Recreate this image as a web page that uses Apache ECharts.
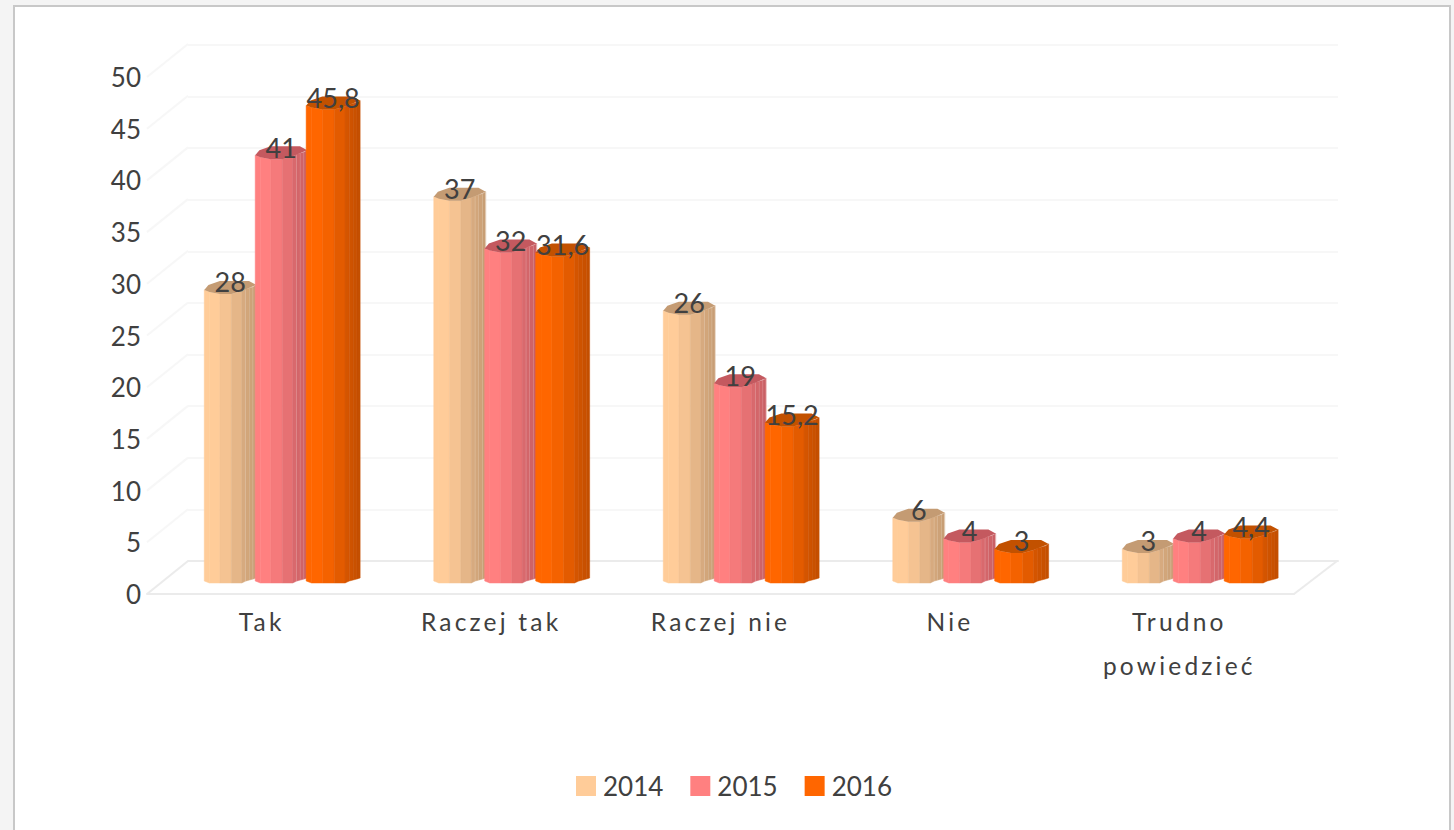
<!DOCTYPE html>
<html>
<head>
<meta charset="utf-8">
<script src="https://cdn.jsdelivr.net/npm/echarts@6/dist/echarts.min.js"></script>
<style>
  * { margin: 0; padding: 0; }
  body { background: #f4f4f4; width: 1454px; height: 830px; overflow: hidden; position: relative; }
  #panel { position: absolute; left: 13px; top: 5px; width: 1438px; height: 830px; background: #fff; border: 2px solid #c8c8c8; box-sizing: border-box; }
  #main { position: absolute; left: 0; top: 0; width: 1454px; height: 830px; }
  /* category labels are spaced out in the original */
  #main text[style*="24.5px"] { letter-spacing: 3.2px; }
</style>
</head>
<body>
<div id="panel"></div>
<div id="main"></div>
<script>
  var categories = ['Tak', 'Raczej tak', 'Raczej nie', 'Nie', 'Trudno\npowiedzieć'];
  var years = ['2014', '2015', '2016'];
  var values2014 = [28, 37, 26, 6, 3];
  var values2015 = [41, 32, 19, 4, 4];
  var values2016 = [45.8, 31.6, 15.2, 3, 4.4];
  var yTicks = [0, 5, 10, 15, 20, 25, 30, 35, 40, 45, 50];

  var lightColors = [[255, 204, 153], [255, 128, 128], [255, 102, 0]];
  var darkColors = [[196, 154, 114], [198, 94, 99], [191, 77, 0]];
  var lidColors = ['#c49b73', '#c4595f', '#c25100'];
  var legendColors = ['#ffcc99', '#ff8080', '#ff6600'];
  var textColor = '#404040';

  // column cross section: position across the bar, then how far the top and bottom edges dip
  var facetU = [0, 0.1, 0.3, 0.52, 0.72, 0.8, 0.87, 0.94, 1];
  var facetTop = [0, 2, 4, 4, 1, -1, -2, -3, -5];
  var facetBottom = [1, 3, 3, 3, 3, 1, 0, -1, -2];

  function mix(a, b, t) {
    return 'rgb(' + a.map(function (v, i) { return Math.round(v + (b[i] - v) * t); }).join(',') + ')';
  }

  function drawColumn(s) {
    return function (params, api) {
      var i = api.value(0), val = api.value(1);
      var band = api.size([1, 0])[0];
      var center = api.coord([i, 0])[0];
      var base = api.coord([i, 0])[1];
      var top = api.coord([i, val])[1];
      var step = band * 0.222;
      var left = center - 78.5 + s * step;
      var w = s === 2 ? 54 : 52;
      var kids = [];
      for (var k = 0; k < facetU.length - 1; k++) {
        var xa = left + facetU[k] * w, xb = left + facetU[k + 1] * w;
        var t = Math.max(0, (facetU[k] - 0.15) / 0.85);
        var fill = mix(lightColors[s], darkColors[s], t);
        kids.push({
          type: 'polygon',
          shape: { points: [
            [xa, top + facetTop[k]], [xb, top + facetTop[k + 1]],
            [xb, base + facetBottom[k + 1]], [xa, base + facetBottom[k]]
          ] },
          style: { fill: fill, stroke: fill, lineWidth: 0.5 }
        });
        if (k >= 4 && s < 2) {
          kids.push({
            type: 'line',
            shape: { x1: xb, y1: top + facetTop[k + 1], x2: xb, y2: base + facetBottom[k + 1] },
            style: { stroke: 'rgba(255,255,255,0.45)', lineWidth: 1 }
          });
        }
      }
      kids.push({
        type: 'polygon',
        shape: { points: [
          [left, top], [left + w * 0.08, top - 5], [left + w * 0.3, top - 9], [left + w * 0.86, top - 9],
          [left + w, top - 5], [left + w * 0.72, top + 1], [left + w * 0.52, top + 4], [left + w * 0.3, top + 4], [left + w * 0.1, top + 2]
        ] },
        style: { fill: lidColors[s] }
      });
      kids.push({
        type: 'text',
        z2: 100,
        style: {
          x: left + w / 2, y: top - 8,
          text: String(val).replace('.', ','),
          font: '27px Lato', fill: textColor,
          align: 'center', verticalAlign: 'middle'
        }
      });
      return { type: 'group', children: kids };
    };
  }

  // side walls and floor edges joining the front scale to the back wall
  function drawWalls(params, api) {
    var tick = api.value(1);
    var p = api.coord([0, tick]);
    var x0 = params.coordSys.x, kids = [];
    kids.push({
      type: 'line',
      shape: { x1: x0, y1: p[1], x2: x0 + 41, y2: p[1] - 33 },
      style: { stroke: tick === 0 ? '#ebebeb' : '#f7f7f7', lineWidth: 2 }
    });
    if (tick === 0) {
      var x1 = x0 + params.coordSys.width;
      kids.push({
        type: 'line',
        shape: { x1: x1, y1: p[1], x2: x1 + 43, y2: p[1] - 33 },
        style: { stroke: '#ebebeb', lineWidth: 2 }
      });
    }
    return { type: 'group', children: kids };
  }

  var seriesValues = [values2014, values2015, values2016];
  var columns = years.map(function (y, s) {
    return {
      name: y,
      type: 'custom',
      xAxisIndex: 1,
      yAxisIndex: 1,
      z: 5,
      itemStyle: { color: legendColors[s] },
      encode: { x: 0, y: 1 },
      renderItem: drawColumn(s),
      data: seriesValues[s].map(function (v, i) { return [i, v]; })
    };
  });

  var chart = echarts.init(document.getElementById('main'), null, { renderer: 'svg' });
  chart.setOption({
    animation: false,
    backgroundColor: 'transparent',
    textStyle: { fontFamily: 'Lato' },
    legend: {
      data: years,
      left: 571,
      top: 768,
      itemWidth: 20,
      itemHeight: 20,
      itemGap: 27,
      icon: 'rect',
      selectedMode: false,
      textStyle: { fontFamily: 'Lato', fontSize: 26, color: textColor, padding: [0, 0, 0, 2] }
    },
    grid: [
      { left: 147, top: 77, width: 1147, height: 517 },   // front plane, carries the labels
      { left: 168, top: 62, width: 1147.5, height: 518 }, // middle plane, the columns stand here
      { left: 188, top: 45, width: 1150, height: 516 }    // back wall
    ],
    xAxis: [
      {
        gridIndex: 0, type: 'category', data: categories,
        axisTick: { show: false },
        axisLine: { lineStyle: { color: '#ebebeb', width: 2 } },
        axisLabel: { fontFamily: 'Lato', fontSize: 24.5, color: textColor, margin: 5, lineHeight: 44, interval: 0 }
      },
      { gridIndex: 1, type: 'category', data: categories, show: false },
      {
        gridIndex: 2, type: 'category', data: categories,
        axisTick: { show: false },
        axisLabel: { show: false },
        axisLine: { lineStyle: { color: '#ebebeb', width: 2 } }
      }
    ],
    yAxis: [
      {
        gridIndex: 0, type: 'value', min: 0, max: 50, interval: 5,
        axisLine: { show: false },
        axisTick: { show: false },
        splitLine: { show: false },
        axisLabel: { fontFamily: 'Lato', fontSize: 26, color: textColor, margin: 6 }
      },
      { gridIndex: 1, type: 'value', min: 0, max: 50, interval: 5, show: false, splitLine: { show: false } },
      {
        gridIndex: 2, type: 'value', min: 0, max: 50, interval: 5,
        axisLine: { show: false },
        axisTick: { show: false },
        axisLabel: { show: false },
        splitLine: { lineStyle: { color: '#f7f7f7', width: 2 } }
      }
    ],
    series: [
      {
        name: 'walls',
        type: 'custom',
        xAxisIndex: 0,
        yAxisIndex: 0,
        z: 1,
        encode: { x: 0, y: 1 },
        renderItem: drawWalls,
        data: yTicks.map(function (t) { return [0, t]; })
      }
    ].concat(columns)
  });
</script>
</body>
</html>
